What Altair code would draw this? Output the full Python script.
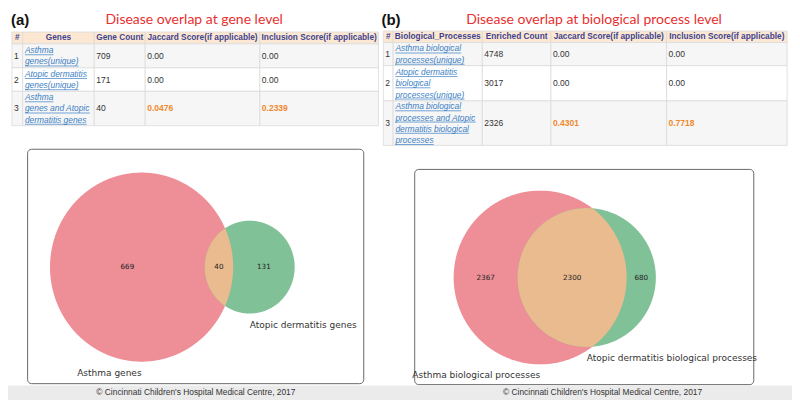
import numpy as np
import pandas as pd
import altair as alt

# ------------------------------------------------------------------ data
panel_letters = ["(a)", "(b)"]
panel_titles = ["Disease overlap at gene level",
                "Disease overlap at biological process level"]

gene_header = ["#", "Genes", "Gene Count", "Jaccard Score(if applicable)",
               "Inclusion Score(if applicable)"]
gene_rows = ["1", "2", "3"]
gene_names = [["Asthma", "genes(unique)"],
              ["Atopic dermatitis", "genes(unique)"],
              ["Asthma", "genes and Atopic", "dermatitis genes"]]
gene_counts = ["709", "171", "40"]
gene_jaccard = ["0.00", "0.00", "0.0476"]
gene_inclusion = ["0.00", "0.00", "0.2339"]

bp_header = ["#", "Biological_Processes", "Enriched Count",
             "Jaccard Score(if applicable)", "Inclusion Score(if applicable)"]
bp_rows = ["1", "2", "3"]
bp_names = [["Asthma biological", "processes(unique)"],
            ["Atopic dermatitis", "biological", "processes(unique)"],
            ["Asthma biological", "processes and Atopic",
             "dermatitis biological", "processes"]]
bp_counts = ["4748", "3017", "2326"]
bp_jaccard = ["0.00", "0.00", "0.4301"]
bp_inclusion = ["0.00", "0.00", "0.7718"]

gene_sets = ["Asthma genes", "Atopic dermatitis genes"]
gene_subsets = [669, 131, 40]          # A only, B only, A and B
bp_sets = ["Asthma biological processes",
           "Atopic dermatitis biological processes"]
bp_subsets = [2367, 680, 2300]

footer_text = "\u00a9 Cincinnati Children's Hospital Medical Centre, 2017"

# ------------------------------------------------------------------ layout / style
W, H = 784, 392
REF_W, REF_H = 800, 408
FONT = "Liberation Sans"
HEAD_COL = "#3e4490"
LINK_COL = "#3b7fc4"
ORANGE = "#f0892e"
RED, GREEN, LENS = "#ee8f98", "#80c197", "#e9bb8f"
LINK_SIZE = 8.4

A_X = [4, 15, 88, 140, 257, 378]
A_Y = [25, 37.3, 62.3, 86.7, 122.5]
B_X = [383, 393, 484, 554, 672, 795]
B_Y = [24, 36, 60, 96.7, 143]
LINE_H = 11.7

PXS = alt.Scale(domain=[0, REF_W], nice=False, zero=False)
PYS = alt.Scale(domain=[0, REF_H], reverse=True, nice=False, zero=False)


def X(f, s=PXS):
    return alt.X(f, type="quantitative", scale=s, axis=None)


def Y(f, s=PYS):
    return alt.Y(f, type="quantitative", scale=s, axis=None)


def text_layer(df, **mark):
    return alt.Chart(df).mark_text(**mark).encode(
        x=X("x"), y=Y("y"), text="text:N")


ARIAL = {'a': 556, 'b': 556, 'c': 500, 'd': 556, 'e': 556, 'f': 278, 'g': 556,
         'h': 556, 'i': 222, 'j': 222, 'k': 500, 'l': 222, 'm': 833, 'n': 556,
         'o': 556, 'p': 556, 'q': 556, 'r': 333, 's': 500, 't': 278, 'u': 556,
         'v': 500, 'w': 722, 'x': 500, 'y': 500, 'z': 500, ' ': 278, '(': 333,
         ')': 333, 'A': 667, '_': 556}


def text_width(s, size):
    return sum(ARIAL.get(c, 556) for c in s) / 1000.0 * size


layers = []

# ------------------------------------------------------------------ tables
def build_table(xs, ys, header, nums, names, counts, jac, inc):
    cells = []
    for r in range(len(ys) - 1):
        fill = "#fce8d2" if r == 0 else ("#ffffff" if r % 2 == 0 else "#f6f6f6")
        for c in range(len(xs) - 1):
            cells.append(dict(x=xs[c], x2=xs[c + 1], y=ys[r], y2=ys[r + 1], fill=fill))
    cdf = pd.DataFrame(cells)
    layers.append(alt.Chart(cdf).mark_rect(stroke="#dadada", strokeWidth=0.8).encode(
        x=X("x"), x2="x2", y=Y("y"), y2="y2",
        color=alt.Color("fill:N", scale=None)))

    hy = (ys[0] + ys[1]) / 2
    hdf = pd.DataFrame([dict(x=(xs[c] + xs[c + 1]) / 2, y=hy, text=t)
                        for c, t in enumerate(header)])
    layers.append(text_layer(hdf, font=FONT, fontSize=8.3, fontWeight="bold",
                             color=HEAD_COL, baseline="middle", align="center"))

    plain, orange, links, ulines = [], [], [], []
    for i in range(len(nums)):
        cy = (ys[i + 1] + ys[i + 2]) / 2
        plain.append(dict(x=xs[0] + 2, y=cy, text=nums[i]))
        plain.append(dict(x=xs[2] + 2, y=cy, text=counts[i]))
        for col, vals in ((3, jac), (4, inc)):
            d = dict(x=xs[col] + 2, y=cy, text=vals[i])
            (plain if vals[i] == "0.00" else orange).append(d)
        n = len(names[i])
        for k, line in enumerate(names[i]):
            ly = cy + (k - (n - 1) / 2) * LINE_H
            links.append(dict(x=xs[1] + 2.3, y=ly, text=line))
            wref = text_width(line, LINK_SIZE) * REF_W / W
            ulines.append(dict(x=xs[1] + 2.3, x2=xs[1] + 2.3 + wref, y=ly + 4.7))
    layers.append(text_layer(pd.DataFrame(plain), font=FONT, fontSize=8.5,
                             color="#333333", baseline="middle", align="left"))
    layers.append(text_layer(pd.DataFrame(orange), font=FONT, fontSize=8.5,
                             fontWeight="bold", color=ORANGE,
                             baseline="middle", align="left"))
    layers.append(text_layer(pd.DataFrame(links), font=FONT, fontSize=LINK_SIZE,
                             fontStyle="italic", color=LINK_COL,
                             baseline="middle", align="left"))
    layers.append(alt.Chart(pd.DataFrame(ulines)).mark_rule(
        color=LINK_COL, strokeWidth=0.7).encode(x=X("x"), x2="x2", y=Y("y")))


build_table(A_X, A_Y, gene_header, gene_rows, gene_names, gene_counts,
            gene_jaccard, gene_inclusion)
build_table(B_X, B_Y, bp_header, bp_rows, bp_names, bp_counts,
            bp_jaccard, bp_inclusion)

# titles and panel letters
layers.append(text_layer(pd.DataFrame([dict(x=190, y=12, text=panel_titles[0]),
                                       dict(x=598, y=12, text=panel_titles[1])]),
                         font="Lato", fontSize=14, color="#e8302f",
                         baseline="middle", align="center"))
layers.append(text_layer(pd.DataFrame([dict(x=3, y=12, text=panel_letters[0]),
                                       dict(x=381, y=12, text=panel_letters[1])]),
                         font=FONT, fontSize=15, fontWeight="bold",
                         color="#111111", baseline="middle", align="left"))

# venn frames and footer
frames = pd.DataFrame([dict(x=20, x2=363, y=147, y2=391),
                       dict(x=415, x2=761, y=168, y2=392)])
layers.append(alt.Chart(frames).mark_rect(
    fill="white", stroke="#6a6a6a", strokeWidth=1, cornerRadius=4).encode(
    x=X("x"), x2="x2", y=Y("y"), y2="y2"))
layers.append(alt.Chart(pd.DataFrame([dict(x=0, x2=800, y=393, y2=408)])).mark_rect(
    fill="#ebebeb").encode(x=X("x"), x2="x2", y=Y("y"), y2="y2"))
layers.append(text_layer(pd.DataFrame([dict(x=191.7, y=399.5, text=footer_text),
                                       dict(x=606.7, y=399.5, text=footer_text)]),
                         font=FONT, fontSize=8.4, color="#333333",
                         baseline="middle", align="center"))


# ------------------------------------------------------------------ venn diagrams
def lens_area(r1, r2, d):
    if d >= r1 + r2:
        return 0.0
    if d <= abs(r1 - r2):
        return np.pi * min(r1, r2) ** 2
    a1 = r1 ** 2 * np.arccos((d * d + r1 * r1 - r2 * r2) / (2 * d * r1))
    a2 = r2 ** 2 * np.arccos((d * d + r2 * r2 - r1 * r1) / (2 * d * r2))
    a3 = 0.5 * np.sqrt((-d + r1 + r2) * (d + r1 - r2) * (d - r1 + r2) * (d + r1 + r2))
    return a1 + a2 - a3


def venn_geometry(subsets):
    a_only, b_only, ab = subsets
    r1 = np.sqrt((a_only + ab) / np.pi)
    r2 = np.sqrt((b_only + ab) / np.pi)
    lo, hi = abs(r1 - r2) + 1e-9, r1 + r2
    for _ in range(200):
        mid = (lo + hi) / 2
        if lens_area(r1, r2, mid) > ab:
            lo = mid
        else:
            hi = mid
    return r1, r2, (lo + hi) / 2


def add_venn(subsets, names, cxp, cyp, sx, sy):
    r1, r2, d = venn_geometry(subsets)
    xs = alt.Scale(domain=[-cxp / sx, (REF_W - cxp) / sx], nice=False, zero=False)
    ys = alt.Scale(domain=[(cyp - REF_H) / sy, cyp / sy], nice=False, zero=False)

    def area(df, color):
        return alt.Chart(df).mark_area(color=color, opacity=1, strokeWidth=0).encode(
            x=X("x", xs), y=Y("y", ys), y2="y2")

    t = np.linspace(np.pi, 0, 361)
    c1 = pd.DataFrame(dict(x=r1 * np.cos(t), y=-r1 * np.sin(t), y2=r1 * np.sin(t)))
    c2 = pd.DataFrame(dict(x=d + r2 * np.cos(t), y=-r2 * np.sin(t), y2=r2 * np.sin(t)))
    xl, xr = d - r2, r1
    tl = np.linspace(0, np.pi, 361)
    lx = (xl + xr) / 2 - (xr - xl) / 2 * np.cos(tl)
    h = np.minimum(np.sqrt(np.clip(r1 ** 2 - lx ** 2, 0, None)),
                   np.sqrt(np.clip(r2 ** 2 - (lx - d) ** 2, 0, None)))
    lens = pd.DataFrame(dict(x=lx, y=-h, y2=h))
    layers.append(area(c1, RED))
    layers.append(area(c2, GREEN))
    layers.append(area(lens, LENS))

    labels = pd.DataFrame([
        dict(x=((-r1) + (d - r2)) / 2, y=0.0, text=str(subsets[0])),
        dict(x=((d - r2) + r1) / 2, y=0.0, text=str(subsets[2])),
        dict(x=(r1 + (d + r2)) / 2, y=0.0, text=str(subsets[1])),
    ])
    layers.append(alt.Chart(labels).mark_text(
        font="DejaVu Sans", fontSize=7.2, color="#222222", baseline="middle",
        align="center").encode(x=X("x", xs), y=Y("y", ys), text="text:N"))
    layers.append(alt.Chart(pd.DataFrame([dict(x=0.0, y=-r1, text=names[0])])).mark_text(
        font="DejaVu Sans", fontSize=9, color="#333333", baseline="middle",
        align="right", dy=11).encode(x=X("x", xs), y=Y("y", ys), text="text:N"))
    layers.append(alt.Chart(pd.DataFrame([dict(x=d, y=-r2, text=names[1])])).mark_text(
        font="DejaVu Sans", fontSize=9, color="#333333", baseline="middle",
        align="left", dy=11).encode(x=X("x", xs), y=Y("y", ys), text="text:N"))


add_venn(gene_subsets, gene_sets, 136.3, 269.7, 6.22, 6.55)
add_venn(bp_subsets, bp_sets, 543.0, 280.5, 2.29, 2.346)

chart = alt.layer(*layers).resolve_scale(
    x="independent", y="independent"
).properties(
    width=W, height=H, autosize=alt.AutoSizeParams(type="none"), padding=0,
    background="white"
).configure_view(stroke=None)

chart.save("out.html", embed_options={"renderer": "svg", "actions": False})
